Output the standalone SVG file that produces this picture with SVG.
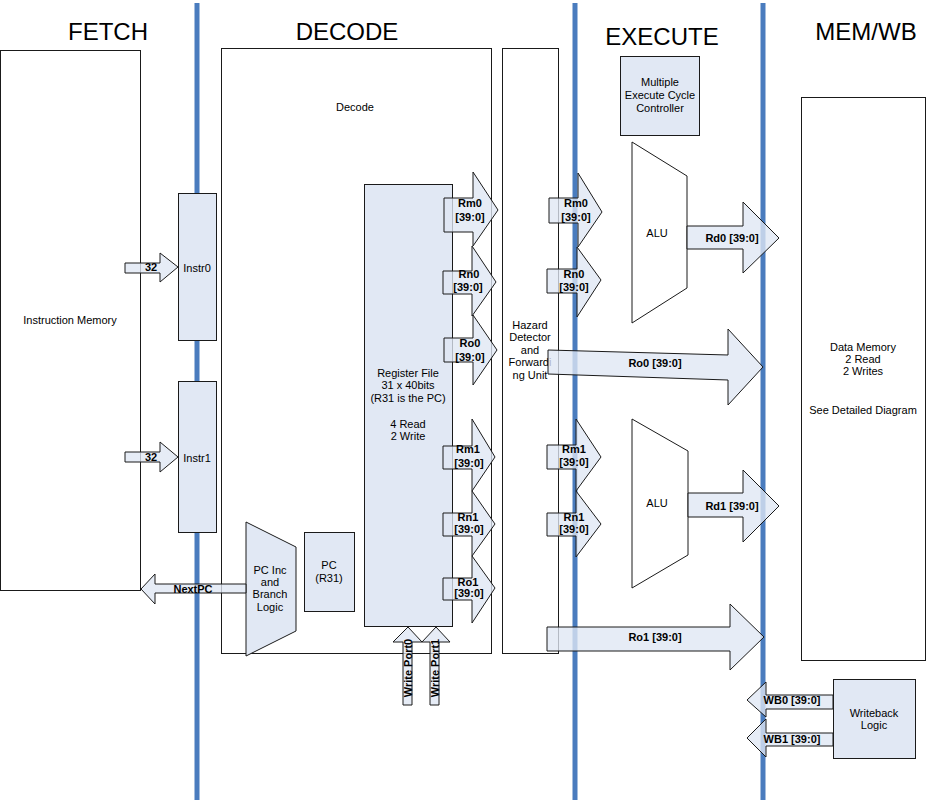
<svg xmlns="http://www.w3.org/2000/svg" width="927" height="800" viewBox="0 0 927 800">
<style>
  .t{font-family:"Liberation Sans",Arial,sans-serif;font-size:11px;fill:#000;text-anchor:middle}
  .b{font-weight:bold}
  .h{font-family:"Liberation Sans",Arial,sans-serif;font-size:24px;fill:#000;text-anchor:middle}
  .box{fill:#fff;stroke:#1a1a1a;stroke-width:1}
  .fb{fill:#e1e8f4;stroke:#1a1a1a;stroke-width:1}
  .ar{fill:#dfe7f4;fill-opacity:0.78;stroke:#1a1a1a;stroke-width:1;stroke-linejoin:miter}
  .bl{stroke:#4a7cbe;stroke-width:5;fill:none}
</style>
<rect width="927" height="800" fill="#fff"/>
<g id="stage-lines">
  <line class="bl" x1="197" y1="3" x2="197" y2="800"/>
  <line class="bl" x1="575" y1="3" x2="575" y2="800"/>
  <line class="bl" x1="763" y1="3" x2="763" y2="800"/>
</g>
<g id="titles">
  <text class="h" x="108" y="40">FETCH</text>
  <text class="h" x="347" y="40">DECODE</text>
  <text class="h" x="662" y="45">EXECUTE</text>
  <text class="h" x="866" y="40">MEM/WB</text>
</g>
<g id="instruction-memory">
  <rect class="box" x="0.5" y="50.5" width="140" height="540" fill-opacity="0"/>
  <text class="t" x="70" y="324">Instruction Memory</text>
</g>
<g id="decode">
  <rect class="box" x="221.5" y="48.5" width="270" height="605" fill-opacity="0"/>
  <text class="t" x="355" y="111">Decode</text>
</g>
<g id="hazard-unit">
  <rect class="box" x="502.5" y="48.5" width="56" height="605" fill-opacity="0"/>
  <text class="t" x="530" y="329">Hazard</text>
  <text class="t" x="530" y="341">Detector</text>
  <text class="t" x="530" y="354">and</text>
  <text class="t" x="530" y="366">Forwardi</text>
  <text class="t" x="530" y="379">ng Unit</text>
</g>
<g id="instr0">
  <rect class="fb" x="178.5" y="193.5" width="38" height="147"/>
  <text class="t" x="197" y="272">Instr0</text>
</g>
<g id="instr1">
  <rect class="fb" x="178.5" y="381.5" width="38" height="151"/>
  <text class="t" x="197" y="462">Instr1</text>
</g>
<g id="pc-inc">
  <polygon class="fb" points="246,522 296,547 296,631 246,656"/>
  <text class="t" x="270" y="574">PC Inc</text>
  <text class="t" x="270" y="586">and</text>
  <text class="t" x="270" y="598">Branch</text>
  <text class="t" x="270" y="611">Logic</text>
</g>
<g id="pc">
  <rect class="fb" x="304.5" y="532.5" width="50" height="79"/>
  <text class="t" x="329" y="569">PC</text>
  <text class="t" x="329" y="582">(R31)</text>
</g>
<g id="register-file">
  <rect class="fb" x="364.5" y="184.5" width="88" height="442"/>
  <text class="t" x="408" y="377">Register File</text>
  <text class="t" x="408" y="389">31 x 40bits</text>
  <text class="t" x="408" y="402">(R31 is the PC)</text>
  <text class="t" x="408" y="428">4 Read</text>
  <text class="t" x="408" y="440">2 Write</text>
</g>
<g id="mecc">
  <rect class="fb" x="620.5" y="56.5" width="79" height="79"/>
  <text class="t" x="660" y="86">Multiple</text>
  <text class="t" x="660" y="99">Execute Cycle</text>
  <text class="t" x="660" y="112">Controller</text>
</g>
<g id="alu0">
  <polygon class="box" points="632,142 687,176 687,288 632,323"/>
  <text class="t" x="657" y="237">ALU</text>
</g>
<g id="alu1">
  <polygon class="box" points="632,419 688,451 688,555 632,588"/>
  <text class="t" x="657" y="507">ALU</text>
</g>
<g id="data-memory">
  <rect class="box" x="801.5" y="97.5" width="124" height="563"/>
  <text class="t" x="863" y="351">Data Memory</text>
  <text class="t" x="863" y="363">2 Read</text>
  <text class="t" x="863" y="375">2 Writes</text>
  <text class="t" x="863" y="414">See Detailed Diagram</text>
</g>
<g id="writeback">
  <rect class="fb" x="833.5" y="679.5" width="82" height="79"/>
  <text class="t" x="874" y="717">Writeback</text>
  <text class="t" x="874" y="729">Logic</text>
</g>
<g id="connectors">
  <polygon class="ar" points="125,263 160,263 160,253 178,267 160,282 160,273 125,273"/>
  <text class="t b" x="151" y="271">32</text>
  <polygon class="ar" points="125,452 160,452 160,442 178,457 160,472 160,462 125,462"/>
  <text class="t b" x="151" y="461">32</text>
  <polygon class="ar" points="246,584 155,584 155,574 141,589 155,604 155,593 246,593"/>
  <text class="t b" x="193" y="593">NextPC</text>
  <polygon class="ar" points="444,198 473,198 473,172 498,210 473,246 473,232 444,232"/>
  <text class="t b" x="470" y="207">Rm0</text><text class="t b" x="470" y="221">[39:0]</text>
  <polygon class="ar" points="443,271 472,271 472,246 496,282 472,316 472,294 443,294"/>
  <text class="t b" x="469" y="278">Rn0</text><text class="t b" x="468" y="291">[39:0]</text>
  <polygon class="ar" points="444,338 473,338 473,315 497,350 473,385 473,362 444,362"/>
  <text class="t b" x="470" y="347">Ro0</text><text class="t b" x="470" y="361">[39:0]</text>
  <polygon class="ar" points="443,446 472,446 472,419 495,457 472,491 472,469 443,469"/>
  <text class="t b" x="468" y="453">Rm1</text><text class="t b" x="469" y="467">[39:0]</text>
  <polygon class="ar" points="443,513 472,513 472,491 495,524 472,556 472,536 443,536"/>
  <text class="t b" x="468" y="521">Rn1</text><text class="t b" x="469" y="533">[39:0]</text>
  <polygon class="ar" points="443,578 472,578 472,556 495,588 472,623 472,600 443,600"/>
  <text class="t b" x="468" y="586">Ro1</text><text class="t b" x="469" y="597">[39:0]</text>
  <polygon class="ar" points="403,705 403,642 393,642 408,627 422,642 412,642 412,705"/>
  <text class="t b" transform="translate(412,668) rotate(-90)">Write Port0</text>
  <polygon class="ar" points="430,705 430,642 422,642 436,627 450,642 439,642 439,705"/>
  <text class="t b" transform="translate(439,668) rotate(-90)">Write Port1</text>
  <polygon class="ar" points="549,198 578,198 578,173 602,212 578,247 578,223 549,223"/>
  <text class="t b" x="576" y="207">Rm0</text><text class="t b" x="576" y="221">[39:0]</text>
  <polygon class="ar" points="547,269 577,269 577,247 601,280 577,317 577,293 547,293"/>
  <text class="t b" x="574" y="278">Rn0</text><text class="t b" x="574" y="291">[39:0]</text>
  <polygon class="ar" points="547,445 576,445 576,419 601,457 576,491 576,469 547,469"/>
  <text class="t b" x="574" y="453">Rm1</text><text class="t b" x="574" y="466">[39:0]</text>
  <polygon class="ar" points="547,513 576,513 576,491 601,524 576,557 576,536 547,536"/>
  <text class="t b" x="574" y="521">Rn1</text><text class="t b" x="574" y="533">[39:0]</text>
  <polygon class="ar" points="687,226 743,226 743,202 779,238 743,273 743,249 687,249"/>
  <text class="t b" x="732" y="242">Rd0 [39:0]</text>
  <polygon class="ar" points="688,493 743,493 743,470 779,506 743,542 743,517 688,517"/>
  <text class="t b" x="732" y="510">Rd1 [39:0]</text>
  <polygon class="ar" points="548,350 728,355 728,329 763,367 728,405 728,380 548,374"/>
  <text class="t b" x="655" y="367">Ro0 [39:0]</text>
  <polygon class="ar" points="547,627 730,627 730,604 764,637 730,670 730,651 547,651"/>
  <text class="t b" x="655" y="641">Ro1 [39:0]</text>
  <polygon class="ar" points="833,695 766,695 766,682 747,700 766,717 766,709 833,709"/>
  <text class="t b" x="792" y="704">WB0 [39:0]</text>
  <polygon class="ar" points="833,733 766,733 766,719 747,738 766,757 766,746 833,746"/>
  <text class="t b" x="792" y="743">WB1 [39:0]</text>
</g>
</svg>
